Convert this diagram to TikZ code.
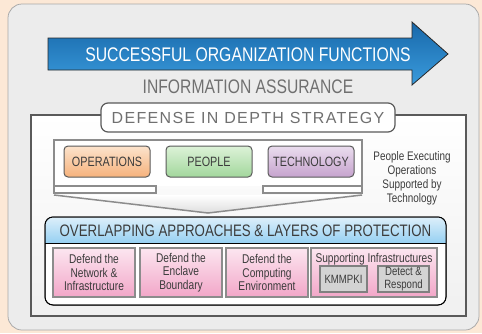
\documentclass[tikz,border=0pt]{standalone}
\usepackage{fontspec}
\usepackage{tikz}
\usepackage{xcolor}
\setmainfont{Liberation Sans}
\newfontfamily\narrowfont{Liberation Sans}[FakeStretch=0.8]
\newfontfamily\spacedfont{Liberation Sans}[LetterSpace=8.5]
\definecolor{peach}{RGB}{252,232,214}
\definecolor{panelgray}{RGB}{236,236,236}
\definecolor{panelline}{RGB}{168,168,168}
\definecolor{arrowtop}{RGB}{24,104,170}
\definecolor{arrowbottom}{RGB}{58,155,220}
\definecolor{titlegray}{RGB}{112,112,112}
\definecolor{darkline}{RGB}{90,90,90}
\definecolor{frameline}{RGB}{140,140,140}
\definecolor{opstop}{RGB}{252,227,204}
\definecolor{opsbottom}{RGB}{246,178,124}
\definecolor{peopletop}{RGB}{221,242,216}
\definecolor{peoplebottom}{RGB}{162,215,156}
\definecolor{techtop}{RGB}{234,221,238}
\definecolor{techbottom}{RGB}{198,163,206}
\definecolor{headtop}{RGB}{221,239,250}
\definecolor{headbottom}{RGB}{150,208,242}
\definecolor{pinktop}{RGB}{252,230,240}
\definecolor{pinkbottom}{RGB}{242,166,200}
\definecolor{textgray}{RGB}{60,60,60}
\tikzset{every picture/.style={line width=0.75pt}}
\tikzset{
  pillar/.style={draw=darkline, line width=1pt, rounded corners=4pt, minimum width=86pt,
    minimum height=31pt, text=textgray, font=\narrowfont\fontsize{13.5}{15}\selectfont},
  layer/.style={draw=frameline, line width=1.2pt, top color=pinktop, bottom color=pinkbottom,
    minimum width=82pt, minimum height=49pt, inner sep=0pt, align=center, text=textgray,
    font=\narrowfont\fontsize{12.7}{13.5}\selectfont},
  support/.style={draw=gray, line width=1.2pt, fill={rgb,255:red,211;green,211;blue,211},
    minimum height=26pt, inner sep=0pt, align=center, text=textgray,
    font=\narrowfont\fontsize{12}{13}\selectfont}
}
\begin{document}
\begin{tikzpicture}[x=1pt,y=1pt,yscale=-1,xscale=1]
\useasboundingbox (0,0) rectangle (482,333);
% background and panel
\fill [peach] (0,0) rectangle (482,333);
\draw [panelline, fill=panelgray, rounded corners=14pt] (8,4) rectangle (479,330);

% big arrow
\shade [draw={rgb,255:red,40;green,40;blue,40}, line width=0.8pt, top color=arrowtop, bottom color=arrowbottom]
  (48,38) -- (412,38) -- (412,22) -- (448,54) -- (412,85) -- (412,70) -- (48,70) -- cycle;
\node [text=white, font=\narrowfont\fontsize{19.7}{22}\selectfont] (orgfun) at (248,55) {SUCCESSFUL ORGANIZATION FUNCTIONS};
\node [text=titlegray, font=\narrowfont\fontsize{19.6}{22}\selectfont] (infoass) at (248,87) {INFORMATION ASSURANCE};

% defense in depth box
\node [draw=darkline, line width=1.5pt, top color=white, bottom color={rgb,255:red,240;green,240;blue,240},
  minimum width=435pt, minimum height=201pt, inner sep=0pt] (didbox) at (248.5,215.5) {};
\node [draw=darkline, line width=1.2pt, fill=white, rounded corners=7pt, minimum width=294pt,
  minimum height=29pt, inner sep=0pt, text=titlegray, font=\spacedfont\fontsize{16}{18}\selectfont] (didtitle) at (248,117.5) {DEFENSE IN DEPTH STRATEGY};

% bracket and funnel
\draw [frameline, line width=1.5pt, fill=white] (54,186) -- (54,140) -- (362,140) -- (362,186);
\draw [frameline, line width=1.5pt, fill=white] (54,186) rectangle (156,193);
\draw [frameline, line width=1.5pt, fill=white] (263,186) rectangle (362,193);
\shade [top color=white, bottom color={rgb,255:red,222;green,222;blue,222}] (54,195) -- (362,195) -- (208,213) -- cycle;
\draw [frameline, line width=1.5pt] (54,195) -- (208,213) -- (362,195);

\node [pillar, top color=opstop, bottom color=opsbottom] (ops) at (107,161.5) {OPERATIONS};
\node [pillar, top color=peopletop, bottom color=peoplebottom] (people) at (209,161.5) {PEOPLE};
\node [pillar, top color=techtop, bottom color=techbottom] (tech) at (311,161.5) {TECHNOLOGY};
\node [align=center, text=textgray, font=\narrowfont\fontsize{12.4}{14}\selectfont] (pept) at (412,178)
  {People Executing\\Operations\\Supported by\\Technology};

% layers of protection
\draw [fill=white, rounded corners=8pt] (45,217) rectangle (446,305);
\shade [top color=headtop, bottom color=headbottom] (45,243) [rounded corners=8pt] -- (45,217) -- (446,217) [sharp corners] -- (446,243) -- cycle;
\draw [line width=1pt, rounded corners=8pt] (45,217) rectangle (446,305);
\draw [line width=1pt] (45,243) -- (446,243);
\node [text=textgray, font=\narrowfont\fontsize{16.6}{18}\selectfont] (overlap) at (245.5,230.5) {OVERLAPPING APPROACHES \& LAYERS OF PROTECTION};

\node [layer] (netinf) at (94,272.5) {Defend the\\Network \&\\Infrastructure};
\node [layer] (enclave) at (181,272.5) {Defend the\\Enclave\\Boundary};
\node [layer] (compenv) at (267,272.5) {Defend the\\Computing\\Environment};
\node [layer, minimum width=126pt] (suppinf) at (374,272.5) {};
\node [text=textgray, font=\narrowfont\fontsize{12.7}{14}\selectfont, inner sep=0pt] (supptitle) at (374,259) {Supporting Infrastructures};
\node [support, minimum width=47pt] (kmmpki) at (343.5,279) {KMMPKI};
\node [support, minimum width=51pt] (detresp) at (403.5,279) {Detect \&\\Respond};
\end{tikzpicture}
\end{document}
